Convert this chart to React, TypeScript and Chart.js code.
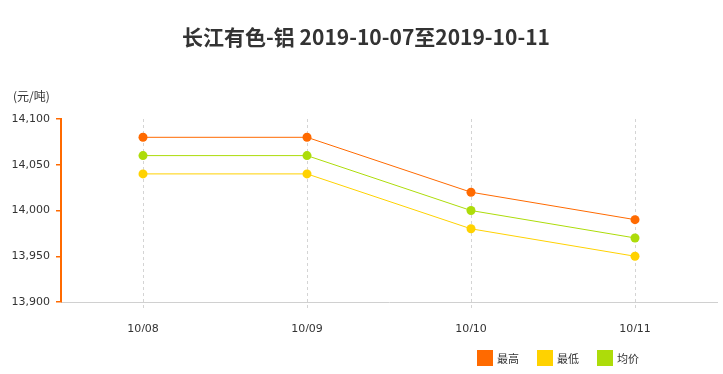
import React, { useEffect, useRef } from "react";
import { Chart, registerables } from "chart.js";

Chart.register(...registerables);

const TITLE = "长江有色-铝 2019-10-07至2019-10-11";
const UNIT = "(元/吨)";
const categories = ["10/08", "10/09", "10/10", "10/11"];
const highValues = [14080, 14080, 14020, 13990];
const lowValues = [14040, 14040, 13980, 13950];
const avgValues = [14060, 14060, 14000, 13970];
const seriesNames = ["最高", "最低", "均价"];
const seriesColors = ["#FF6A00", "#FFD200", "#ADDC0A"];
const yMin = 13900;
const yMax = 14100;
const yStep = 50;

const FONT = "'DejaVu Sans', Verdana, sans-serif";
const CJK = "'Noto Sans CJK SC', 'Microsoft YaHei', sans-serif";

const fmt = (v: number) => String(v).replace(/\B(?=(\d{3})+(?!\d))/g, ",");

const decorPlugin = {
  id: "decor",
  afterDraw(chart: any) {
    const ctx = chart.ctx as CanvasRenderingContext2D;
    ctx.save();
    // title
    ctx.fillStyle = "#333333";
    ctx.font = `bold 21px ${CJK}`;
    ctx.textAlign = "center";
    ctx.textBaseline = "middle";
    ctx.fillText(TITLE, 366, 37);
    // unit
    ctx.font = `12px ${CJK}`;
    ctx.textAlign = "left";
    ctx.fillText(UNIT, 13, 96);
    // legend
    const boxX = [477, 537, 597];
    chart.data.datasets.forEach((ds: any, i: number) => {
      ctx.fillStyle = ds.borderColor;
      ctx.fillRect(boxX[i], 350, 16, 16);
      ctx.fillStyle = "#333333";
      ctx.font = `11px ${CJK}`;
      ctx.textAlign = "left";
      ctx.textBaseline = "middle";
      ctx.fillText(ds.label, boxX[i] + 20, 359);
    });
    ctx.restore();
  },
};

export default function App() {
  const ref = useRef<HTMLCanvasElement | null>(null);
  useEffect(() => {
    if (!ref.current) return;
    const mk = (i: number, data: number[]) => ({
      label: seriesNames[i],
      data,
      borderColor: seriesColors[i],
      backgroundColor: seriesColors[i],
      pointBackgroundColor: seriesColors[i],
      pointBorderColor: seriesColors[i],
      pointRadius: 4.5,
      pointBorderWidth: 0,
      borderWidth: 1,
      tension: 0,
    });
    const chart = new Chart(ref.current, {
      type: "line",
      data: {
        labels: categories,
        datasets: [mk(0, highValues), mk(1, lowValues), mk(2, avgValues)],
      },
      options: {
        animation: false,
        responsive: true,
        maintainAspectRatio: false,
        layout: { padding: { top: 119, right: 6, bottom: 42, left: 0 } },
        plugins: {
          legend: { display: false },
          title: { display: false },
          tooltip: { enabled: false },
        },
        scales: {
          x: {
            offset: true,
            grid: { display: false, offset: false },
            border: { color: "#d0d0d0", width: 1 },
            ticks: { color: "#333333", font: { family: FONT, size: 11 }, padding: 13 },
            afterFit: (s: any) => {
              s.height = 30;
            },
          },
          y: {
            min: yMin,
            max: yMax,
            grid: { drawOnChartArea: false, color: "#FF6A00", tickLength: 5, lineWidth: 1.5 },
            border: { color: "#FF6A00", width: 2 },
            ticks: {
              stepSize: yStep,
              color: "#333333",
              font: { family: FONT, size: 11 },
              padding: 6,
              callback: (v: any) => fmt(Number(v)),
            },
            afterFit: (s: any) => {
              s.width = 61;
            },
          },
        },
      },
      plugins: [
        decorPlugin,
        {
          id: "dashGrid",
          beforeDatasetsDraw(c: any) {
            const ctx = c.ctx;
            ctx.save();
            ctx.strokeStyle = "#d4d4d4";
            ctx.lineWidth = 1;
            ctx.setLineDash([3, 3]);
            const xs = c.scales.x;
            for (let i = 0; i < categories.length; i++) {
              const x = Math.round(xs.getPixelForValue(i)) + 0.5;
              ctx.beginPath();
              ctx.moveTo(x, c.chartArea.top);
              ctx.lineTo(x, c.chartArea.bottom + 6);
              ctx.stroke();
            }
            ctx.restore();
          },
        },
      ],
    } as any);
    return () => chart.destroy();
  }, []);
  return (
    <div style={{ position: "absolute", left: 0, top: 0, width: 723, height: 374, background: "#fff" }}>
      <canvas ref={ref} />
    </div>
  );
}
